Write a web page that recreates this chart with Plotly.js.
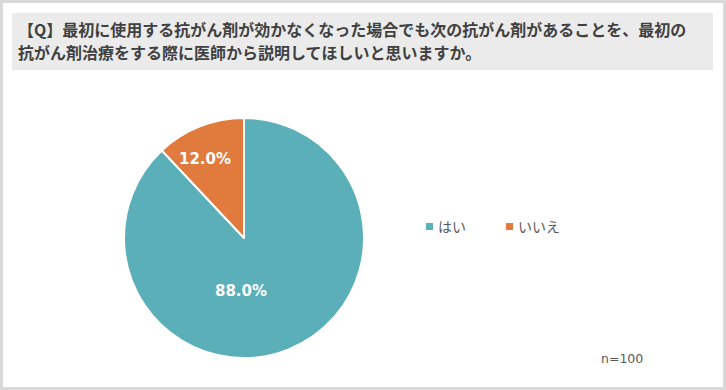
<!DOCTYPE html>
<html><head><meta charset="utf-8">
<script src="https://cdn.plot.ly/plotly-3.0.1.min.js"></script>
<style>html,body{margin:0;padding:0;background:#fff;}#chart{width:726px;height:390px;}</style>
</head><body><div id="chart"></div>
<script>
const categories = ["はい", "いいえ"];
const values = [88.0, 12.0];
const colors = ["#5aafb8", "#e07a3d"];
const titleLines = ["【Q】最初に使用する抗がん剤が効かなくなった場合でも次の抗がん剤があることを、最初の", "抗がん剤治療をする際に医師から説明してほしいと思いますか。"];
const noteText = "n=100";

const W = 726, H = 390;
const px = x => x / W, py = y => 1 - y / H;

const trace = {
  type: 'pie', labels: categories, values: values, sort: false, direction: 'clockwise', rotation: 0,
  marker: {colors: colors, line: {color: '#ffffff', width: 2}},
  textinfo: 'none',
  hoverinfo: 'none', showlegend: false,
  domain: {x: [px(124), px(364)], y: [py(358), py(118)]}
};

const shapes = [
  {type: 'rect', xref: 'paper', yref: 'paper', x0: px(1.5), x1: px(724.5), y0: py(388.5), y1: py(1.5), line: {color: '#d9d9d9', width: 3}, fillcolor: 'rgba(0,0,0,0)', layer: 'below'},
  {type: 'rect', xref: 'paper', yref: 'paper', x0: px(12), x1: px(713), y0: py(70), y1: py(13), line: {width: 0}, fillcolor: '#ebebeb', layer: 'below'}
];
const annotations = [
  {xref: 'paper', yref: 'paper', x: px(622), y: py(358), xanchor: 'center', yanchor: 'middle', showarrow: false,
   text: noteText, font: {family: 'DejaVu Sans', size: 12.5, color: '#595959'}}
];
const titleY = [29.5, 52.5];
titleLines.forEach((t, i) => {
  annotations.push({xref: 'paper', yref: 'paper', x: px(16), y: py(titleY[i]), xanchor: 'left', yanchor: 'middle', align: 'left', showarrow: false,
   text: '<b>' + t + '</b>', font: {family: 'Noto Sans CJK JP', size: 16, color: '#404040'}});
});
// data labels (positions of the label anchors)
const labelPos = [[241, 291], [205, 159]];
const total = values.reduce((a, b) => a + b, 0);
values.forEach((v, i) => {
  annotations.push({xref: 'paper', yref: 'paper', x: px(labelPos[i][0]), y: py(labelPos[i][1]), xanchor: 'center', yanchor: 'middle', showarrow: false,
    text: '<b>' + (v / total * 100).toFixed(1) + '%</b>', font: {family: 'DejaVu Sans', size: 15, color: '#ffffff'}});
});
const legendX = [426, 506];
categories.forEach((c, i) => {
  shapes.push({type: 'rect', xref: 'paper', yref: 'paper', x0: px(legendX[i]), x1: px(legendX[i] + 7), y0: py(230), y1: py(223), line: {width: 0}, fillcolor: colors[i]});
  annotations.push({xref: 'paper', yref: 'paper', x: px(legendX[i] + 10), y: py(226), xanchor: 'left', yanchor: 'middle', showarrow: false,
    text: c, font: {family: 'Noto Sans CJK JP', size: 14, color: '#595959'}});
});

Plotly.newPlot('chart', [trace], {
  width: W, height: H, margin: {l: 0, r: 0, t: 0, b: 0}, paper_bgcolor: '#ffffff',
  showlegend: false, shapes: shapes, annotations: annotations
}, {displayModeBar: false, staticPlot: true});
</script></body></html>
